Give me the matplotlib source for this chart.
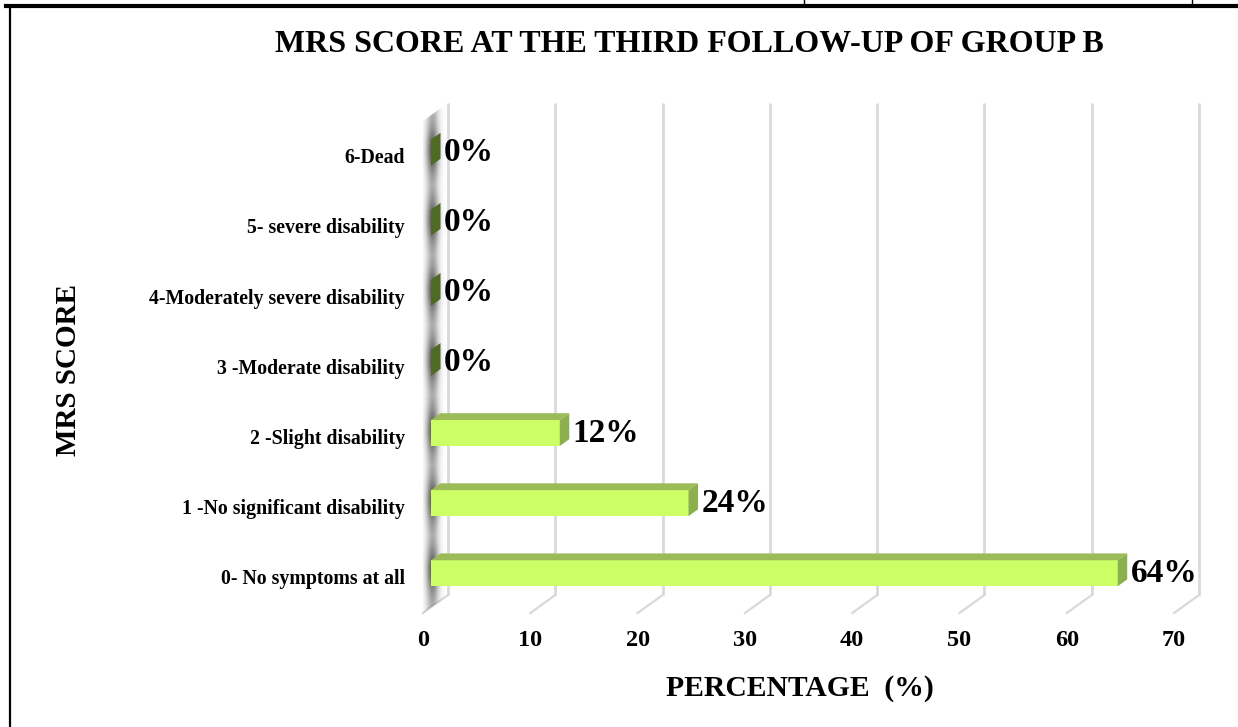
import matplotlib
matplotlib.use("Agg")
import matplotlib.pyplot as plt
import numpy as np
from matplotlib.lines import Line2D
from matplotlib.patches import Polygon

categories = [
    "0- No symptoms at all",
    "1 -No significant disability",
    "2 -Slight disability",
    "3 -Moderate disability",
    "4-Moderately severe disability",
    "5- severe disability",
    "6-Dead",
]
percentages = [64, 24, 12, 0, 0, 0, 0]
x_ticks = [0, 10, 20, 30, 40, 50, 60, 70]

title = "MRS SCORE AT THE THIRD FOLLOW-UP OF GROUP B"
x_label = "PERCENTAGE  (%)"
y_label = "MRS SCORE"

plt.rcParams["font.family"] = ["Liberation Serif", "DejaVu Serif"]
plt.rcParams["font.weight"] = "bold"

W, H = 1238, 727
fig = plt.figure(figsize=(W / 100, H / 100), dpi=100)

# plot area in pixels, data mapped linearly onto it
ax_left, ax_right, ax_top, ax_bottom = 380, 1230, 80, 660
px_per_x = 10.73
px_per_cat = 70.1
x0_px = 423
cat0_px = 579
ax = fig.add_axes([ax_left / W, 1 - ax_bottom / H,
                   (ax_right - ax_left) / W, (ax_bottom - ax_top) / H])
ax.set_xlim((ax_left - x0_px) / px_per_x, (ax_right - x0_px) / px_per_x)
ax.set_ylim((cat0_px - ax_bottom) / px_per_cat, (cat0_px - ax_top) / px_per_cat)
ax.axis("off")

# oblique depth direction of the pseudo-3D box
DX = 25 / px_per_x
DY = 18 / px_per_cat
floor = (cat0_px - 613) / px_per_cat
ceiling = (cat0_px - 103) / px_per_cat
tick_y = (cat0_px - 641) / px_per_cat

grid_color = "#d9d9d9"
for v in x_ticks:
    ax.plot([v + DX, v + DX], [floor + DY, ceiling], color=grid_color,
            lw=2, zorder=1, solid_capstyle="butt")
    ax.plot([v, v + DX], [floor, floor + DY], color=grid_color, lw=1.6, zorder=1)
    ax.text(v, tick_y, str(v), ha="center", va="center", fontsize=17.5,
            fontweight="bold")

# shaded side wall at x = 0
pos = np.arange(len(categories))
wx = np.linspace(-0.2, DX, 60)
wy = np.linspace(floor, ceiling, 400)
xc, sx = 0.84, 0.4
prof_x = np.exp(-((wx - xc) ** 2) / (2 * sx ** 2))
mod_y = np.max(np.exp(-((wy[:, None] - (pos[None, :] + 0.12)) ** 2) / (2 * 0.22 ** 2)), axis=1)
alpha = 0.85 * prof_x[None, :] * (0.45 + 0.55 * mod_y[:, None])
wall = np.zeros((len(wy), len(wx), 4))
wall[..., :3] = 0.22
wall[..., 3] = alpha
im = ax.imshow(wall, extent=[wx[0], wx[-1], wy[0], wy[-1]], origin="lower",
               aspect="auto", interpolation="bilinear", zorder=2)
wall_clip = Polygon([(0, floor), (DX, floor + DY), (DX, ceiling), (0, ceiling - DY)],
                    closed=True, transform=ax.transData, facecolor="none", edgecolor="none")
ax.add_patch(wall_clip)
im.set_clip_path(wall_clip)

# bars: front face plus top and side faces
t1, t2 = 0.32, 0.70
h = 13 / px_per_cat
front_color = "#ccff66"
top_color = "#9bbb59"
side_color = "#8cb04e"
zero_side_color = "#4f6a24"

ax.barh(pos + t1 * DY, percentages, height=2 * h, left=t1 * DX,
        color=front_color, edgecolor="none", zorder=3)
for i, v in zip(pos, percentages):
    top = Polygon([(t1 * DX, i + h + t1 * DY), (v + t1 * DX, i + h + t1 * DY),
                   (v + t2 * DX, i + h + t2 * DY), (t2 * DX, i + h + t2 * DY)],
                  closed=True, facecolor=top_color, edgecolor="none", zorder=3)
    side = Polygon([(v + t1 * DX, i - h + t1 * DY), (v + t2 * DX, i - h + t2 * DY),
                    (v + t2 * DX, i + h + t2 * DY), (v + t1 * DX, i + h + t1 * DY)],
                   closed=True, facecolor=side_color if v > 0 else zero_side_color,
                   edgecolor="none", zorder=4)
    ax.add_patch(top)
    ax.add_patch(side)
    ax.text(v + t2 * DX + 0.3, i + t1 * DY, f"{v}%", ha="left", va="center",
            fontsize=24, fontweight="bold", zorder=5)
    ax.text((405 - x0_px) / px_per_x, i, categories[i], ha="right", va="center",
            fontsize=14.3, fontweight="bold")

fig.text(689 / W, 1 - 45 / H, title, ha="center", va="center",
         fontsize=23, fontweight="bold")
fig.text(800 / W, 1 - 688 / H, x_label, ha="center", va="center",
         fontsize=21.3, fontweight="bold")
fig.text(69 / W, 1 - 370 / H, y_label, ha="center", va="center",
         rotation=90, fontsize=21, fontweight="bold")

# frame lines of the page box
fig.add_artist(Line2D([6 / W, 1], [1 - 6 / H, 1 - 6 / H], color="black", lw=3))
fig.add_artist(Line2D([10 / W, 10 / W], [0, 1 - 6 / H], color="black", lw=1.6))
for xs in (804, 1192):
    fig.add_artist(Line2D([xs / W, xs / W], [1, 1 - 5 / H], color="black", lw=1))

fig.savefig("out.png", dpi=100)
